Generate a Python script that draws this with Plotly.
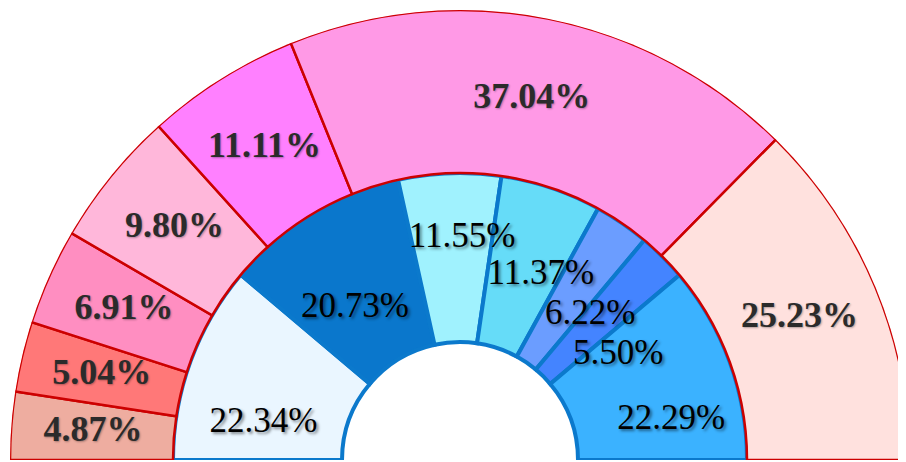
import plotly.graph_objects as go

# ---------------- data ----------------
outer_values = [4.87, 5.04, 6.91, 9.80, 11.11, 37.04, 25.23]
inner_values = [22.34, 20.73, 11.55, 11.37, 6.22, 5.50, 22.29]

# ---------------- styles ----------------
outer_colors = ["#EEADA0", "#FF7878", "#FF8EC1", "#FFB7DA", "#FF80FF", "#FF99E6", "#FFE1DE"]
inner_colors = ["#EAF6FF", "#0A77CC", "#A0F2FE", "#66DCF8", "#6B9DFF", "#4484FF", "#3BB2FF"]
outer_border = "#CC0000"
inner_border = "#0B79CC"

# ring radii (radial-axis units)
R_HOLE, R_MID, R_OUT = 118, 287, 450
OUTER_LABEL_R = 368
# inner label placement tweaks (offset from slice mid-angle, and radius)
inner_label_dtheta = [9.5, 3.5, -2.6, -5.05, -7.5, -11.5, -9.4]
inner_label_r = [200, 185, 222, 202, 195, 190, 215]


def wedges(values):
    total = sum(values)
    cum = 0.0
    centers, widths = [], []
    for v in values:
        widths.append(v / total * 180.0)
        centers.append(180.0 - (cum + v / 2.0) / total * 180.0)
        cum += v
    return centers, widths


oc, ow = wedges(outer_values)
ic, iw = wedges(inner_values)

fig = go.Figure()

fig.add_trace(go.Barpolar(
    theta=ic, width=iw, r=[R_MID - R_HOLE] * len(inner_values), base=[R_HOLE] * len(inner_values),
    marker=dict(color=inner_colors, line=dict(color=inner_border, width=4)),
    hoverinfo="skip", showlegend=False,
))
fig.add_trace(go.Barpolar(
    theta=oc, width=ow, r=[R_OUT - R_MID] * len(outer_values), base=[R_MID] * len(outer_values),
    marker=dict(color=outer_colors, line=dict(color=outer_border, width=2.5)),
    hoverinfo="skip", showlegend=False,
))

fig.add_trace(go.Scatterpolar(
    theta=oc, r=[OUTER_LABEL_R] * len(outer_values), mode="text",
    text=[f"{v:.2f}%" for v in outer_values],
    textfont=dict(family="Liberation Serif", size=36, color="#2B2B2B", weight="bold",
                  shadow="1px 1px 2px rgba(0,0,0,0.3)"),
    hoverinfo="skip", showlegend=False,
))
fig.add_trace(go.Scatterpolar(
    theta=[c + d for c, d in zip(ic, inner_label_dtheta)], r=inner_label_r, mode="text",
    text=[f"{v:.2f}%" for v in inner_values],
    textfont=dict(family="Liberation Serif", size=35, color="#000000",
                  shadow="2px 2px 3px rgba(0,0,0,0.45)"),
    hoverinfo="skip", showlegend=False,
))

W, H = 906, 462
# page body adds an 8px offset; half-disc centre in figure pixels
cx, cy, R = 452, 452, 450
fig.update_layout(
    width=W, height=H,
    margin=dict(l=0, r=0, t=0, b=0),
    paper_bgcolor="white",
    polar=dict(
        domain=dict(x=[(cx - R) / W, (cx + R) / W], y=[(H - cy) / H, (H - cy + R) / H]),
        sector=[0, 180],
        hole=0,
        bargap=0,
        bgcolor="white",
        radialaxis=dict(visible=False, range=[0, R_OUT], showgrid=False),
        angularaxis=dict(visible=False, direction="counterclockwise", rotation=0, showgrid=False),
    ),
)

fig.write_html("out.html")
